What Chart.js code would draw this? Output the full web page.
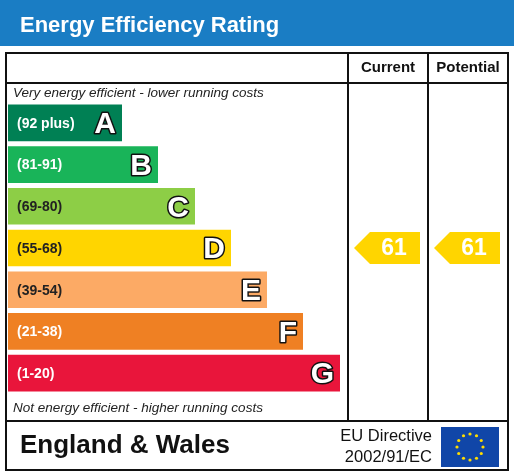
<!DOCTYPE html>
<html>
<head>
<meta charset="utf-8">
<script src="https://cdn.jsdelivr.net/npm/chart.js@4/dist/chart.umd.min.js"></script>
<style>
html,body{margin:0;padding:0;background:#fff}
#wrap{width:514px;height:475px;position:relative}
</style>
</head>
<body>
<div id="wrap"><canvas id="c"></canvas></div>
<script>
const bands = ['A','B','C','D','E','F','G']
const ranges = ['(92 plus)','(81-91)','(69-80)','(55-68)','(39-54)','(21-38)','(1-20)']
const barLengths = [114,150,187,223,259,295,332]
const bandColors = ['#008054','#19b459','#8dce46','#ffd500','#fcaa65','#ef8023','#e9153b']
const rangeTextColors = ['#fff','#fff','#222','#222','#222','#fff','#fff']
const currentRating = 61
const potentialRating = 61
const font = '"Liberation Sans", Arial, sans-serif'

function bandOf(r){
    if (r>=92) return 'A'
    if (r>=81) return 'B'
    if (r>=69) return 'C'
    if (r>=55) return 'D'
    if (r>=39) return 'E'
    if (r>=21) return 'F'
    return 'G'
}

// frame, headers, labels and arrows
const epcPlugin = {
    id:'epc',
    beforeDraw(chart){
        const ctx = chart.ctx
        ctx.save()
        ctx.fillStyle = '#fff'
        ctx.fillRect(0,0,514,475)
        // title bar
        ctx.fillStyle = '#1a7dc4'
        ctx.fillRect(0,0,514,46)
        ctx.fillStyle = '#fff'
        ctx.font = 'bold 22px '+font
        ctx.textBaseline = 'middle'
        ctx.fillText('Energy Efficiency Rating',20,26)
        // frame
        ctx.strokeStyle = '#111'
        ctx.lineWidth = 2
        ctx.strokeRect(6,53,502,368)
        ctx.strokeRect(6,421,502,49)
        ctx.beginPath()
        ctx.moveTo(348,53); ctx.lineTo(348,421)
        ctx.moveTo(428,53); ctx.lineTo(428,421)
        ctx.moveTo(6,83); ctx.lineTo(508,83)
        ctx.stroke()
        ctx.fillStyle = '#111'
        ctx.font = 'bold 15px '+font
        ctx.textAlign = 'center'
        ctx.fillText('Current',388,68)
        ctx.fillText('Potential',468,68)
        ctx.textAlign = 'left'
        ctx.font = 'italic 13.5px '+font
        ctx.fillStyle = '#222'
        ctx.fillText('Very energy efficient - lower running costs',13,93)
        ctx.fillText('Not energy efficient - higher running costs',13,408)
        // footer
        ctx.fillStyle = '#111'
        ctx.font = 'bold 26px '+font
        ctx.fillText('England & Wales',20,446)
        ctx.font = '16.5px '+font
        ctx.textAlign = 'right'
        ctx.fillText('EU Directive',432,436)
        ctx.fillText('2002/91/EC',432,457)
        // flag
        ctx.fillStyle = '#1046a8'
        ctx.fillRect(441,427,58,40)
        ctx.fillStyle = '#ffdd00'
        for (let i=0;i<12;i++){
            const a = i*Math.PI/6
            ctx.beginPath()
            ctx.arc(470+13*Math.cos(a),447+13*Math.sin(a),1.6,0,Math.PI*2)
            ctx.fill()
        }
        ctx.restore()
    },
    afterDatasetsDraw(chart){
        const ctx = chart.ctx
        const meta = chart.getDatasetMeta(0)
        ctx.save()
        ctx.textBaseline = 'middle'
        meta.data.forEach((bar,i)=>{
            ctx.textAlign = 'left'
            ctx.font = 'bold 14px '+font
            ctx.fillStyle = rangeTextColors[i]
            ctx.fillText(ranges[i],17,bar.y+1)
            ctx.textAlign = 'right'
            ctx.font = 'bold 30px '+font
            ctx.lineWidth = 3
            ctx.strokeStyle = '#111'
            ctx.lineJoin = 'round'
            ctx.strokeText(bands[i],bar.x-6,bar.y+2)
            ctx.fillStyle = '#fff'
            ctx.fillText(bands[i],bar.x-6,bar.y+2)
        })
        const ys = chart.scales.y
        const drawArrow = (rating,x0,x1)=>{
            const y = ys.getPixelForValue(bands.indexOf(bandOf(rating)))
            const h = 32
            const c = bandColors[bands.indexOf(bandOf(rating))]
            ctx.fillStyle = c
            ctx.beginPath()
            ctx.moveTo(x0,y)
            ctx.lineTo(x0+16,y-h/2)
            ctx.lineTo(x1,y-h/2)
            ctx.lineTo(x1,y+h/2)
            ctx.lineTo(x0+16,y+h/2)
            ctx.closePath()
            ctx.fill()
            ctx.fillStyle = '#fff'
            ctx.textAlign = 'center'
            ctx.font = 'bold 23px '+font
            ctx.fillText(String(rating),(x0+x1)/2+7,y+1)
        }
        drawArrow(currentRating,354,420)
        drawArrow(potentialRating,434,500)
        ctx.restore()
    }
}

new Chart(document.getElementById('c'),{
    type:'bar',
    data:{
        labels:bands,
        datasets:[{
            data:barLengths,
            backgroundColor:bandColors,
            barPercentage:36/41,
            categoryPercentage:1
        }]
    },
    options:{
        indexAxis:'y',
        responsive:true,
        maintainAspectRatio:false,
        animation:false,
        layout:{padding:{left:8,right:166,top:102,bottom:81}},
        plugins:{legend:{display:false},tooltip:{enabled:false}},
        scales:{
            x:{display:false,min:0,max:340},
            y:{display:false}
        }
    },
    plugins:[epcPlugin]
})
</script>
</body>
</html>
